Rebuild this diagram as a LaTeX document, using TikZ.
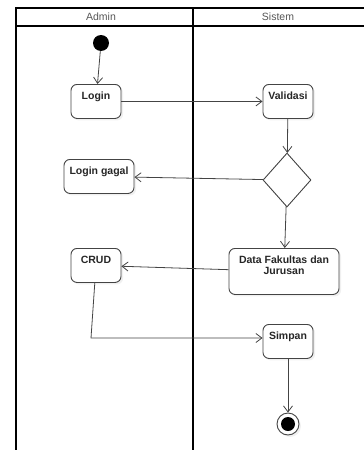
\documentclass[tikz,border=0pt]{standalone}
\usepackage{fontspec}
\setmainfont{Liberation Sans}
\usepackage{tikz}
\usetikzlibrary{arrows.meta,shapes.geometric,shadows}

\definecolor{edgegray}{HTML}{444444}
\definecolor{headgray}{HTML}{555555}

\tikzset{
	act/.style={draw=edgegray, line width=0.9pt, rounded corners=6pt, fill=white,
		font=\fontsize{10.5}{11.5}\selectfont\bfseries, text=black!85, align=center,
		minimum width=50pt, inner xsep=4pt, inner ysep=4pt, text height=11pt, text depth=15pt,
		anchor=north, drop shadow={opacity=0.12, shadow xshift=2pt, shadow yshift=-2pt}},
	flow/.style={draw=edgegray, line width=0.8pt, -{Straight Barb[length=6pt,width=9pt]}},
	lane/.style={line width=2pt, black}
}

\begin{document}
\begin{tikzpicture}[x=1pt, y=-1pt]
			\useasboundingbox (0, 0) rectangle (364, 450);
			
			\draw[lane] (364, 8) -- (16, 8) -- (16, 450);
			\draw[lane] (193, 8) -- (193, 450);
			\draw[line width=1.5pt] (16, 26) -- (364, 26);
			\node[headgray, font=\fontsize{10.5}{12}\selectfont] (hadmin) at (101, 17) {Admin};
			\node[headgray, font=\fontsize{10.5}{12}\selectfont] (hsistem) at (278, 17) {Sistem};
			
			\node[circle, fill=black, minimum size=16pt, inner sep=0pt] (start) at (101, 43) {};
			\node[act] (login) at (96, 84) {Login};
			\node[act] (valid) at (288, 84) {Validasi};
			\node[diamond, draw=edgegray, line width=0.9pt, fill=white, minimum width=48pt, minimum height=54pt, inner sep=0pt] (dec) at (287, 180) {};
			\node[act, minimum width=70pt] (gagal) at (99, 159) {Login gagal};
			\node[act, minimum width=110pt, text height=22.5pt, text depth=15.5pt] (data) at (284, 248) {Data Fakultas dan\\Jurusan};
			\node[act] (crud) at (96, 248) {CRUD};
			\node[act] (simpan) at (288, 324) {Simpan};
			\node[circle, draw=edgegray, line width=0.9pt, fill=white, minimum size=22pt, inner sep=0pt,
				drop shadow={opacity=0.12, shadow xshift=2pt, shadow yshift=-2pt}] (end) at (288, 424) {};
			\node[circle, fill=black, minimum size=14pt, inner sep=0pt] (endin) at (end) {};
			\coordinate (bend) at (91, 338);
			
			\draw[flow] (start) -- (login);
			\draw[flow] (login) -- (valid);
			\draw[flow] (valid) -- (dec);
			\draw[flow] (dec) -- (gagal);
			\draw[flow] (dec) -- (data);
			\draw[flow] (data) -- (crud);
			\draw[flow] (crud) -- (bend) -- (simpan.west |- bend);
			\draw[flow] (simpan) -- (end);
		\end{tikzpicture}
\end{document}
